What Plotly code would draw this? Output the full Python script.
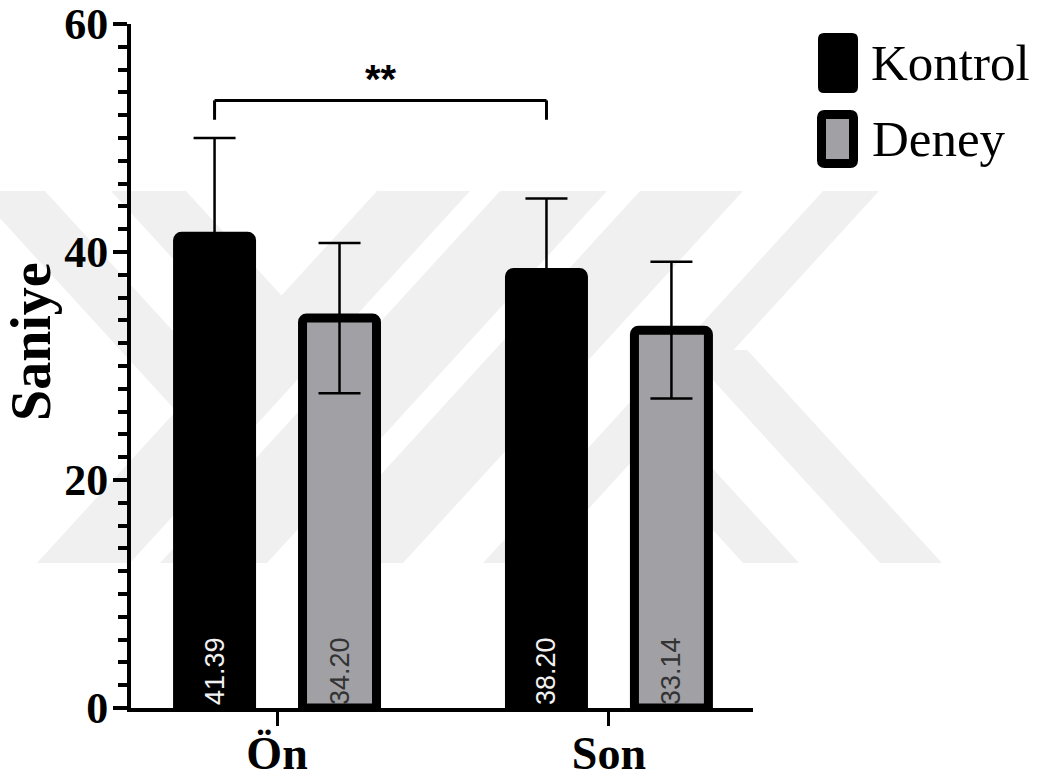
import plotly.graph_objects as go

# ---------------- data ----------------
categories = ["Ön", "Son"]
series_names = ["Kontrol", "Deney"]
kontrol_mean = [41.39, 38.20]
deney_mean = [34.20, 33.14]
kontrol_sd = [8.6, 6.5]
deney_sd = [6.6, 6.0]
y_ticks = [0, 20, 40, 60]
y_title = "Saniye"
signif_label = "**"

# ---------------- layout constants ----------------
W, H = 1041, 784
L, R, T, B = 131, 753, 24, 708          # plot area in px
BARGAP = 0.247
BARGROUPGAP = 0.408
XRANGE = [-0.44, 1.434]
YRANGE = [0, 60]
GREY = "#a1a1a5"
WM = "#f0f0f0"
SERIF = "Liberation Serif"
SANS = "Liberation Sans"


def px(x):
    return (x - L) / (R - L)


def py(y):
    return (B - y) / (B - T)


def poly(points):
    return "M " + " L ".join(f"{px(x):.5f},{py(y):.5f}" for x, y in points) + " Z"


def rrect(x0, y0, x1, y1, r):
    p = lambda x, y: f"{px(x):.5f},{py(y):.5f}"
    return (f"M {p(x0 + r, y0)} L {p(x1 - r, y0)} Q {p(x1, y0)} {p(x1, y0 + r)} "
            f"L {p(x1, y1 - r)} Q {p(x1, y1)} {p(x1 - r, y1)} "
            f"L {p(x0 + r, y1)} Q {p(x0, y1)} {p(x0, y1 - r)} "
            f"L {p(x0, y0 + r)} Q {p(x0, y0)} {p(x0 + r, y0)} Z")


fig = go.Figure()

fig.add_trace(go.Bar(
    x=categories, y=kontrol_mean, name=series_names[0],
    marker=dict(color="black", line=dict(color="black", width=9)),
    error_y=dict(type="data", array=kontrol_sd, color="black", thickness=2.5, width=21),
    text=[f"{v:.2f}" for v in kontrol_mean], textposition="inside",
    insidetextanchor="start", textangle=-90,
    textfont=dict(family=SANS, size=27, color="#f2f2f2"),
    showlegend=False,
))
fig.add_trace(go.Bar(
    x=categories, y=deney_mean, name=series_names[1],
    marker=dict(color=GREY, line=dict(color="black", width=9)),
    error_y=dict(type="data", array=deney_sd, color="black", thickness=2.5, width=21),
    text=[f"{v:.2f}" for v in deney_mean], textposition="inside",
    insidetextanchor="start", textangle=-90,
    textfont=dict(family=SANS, size=27, color="#333333"),
    showlegend=False,
))

shapes = []

# ---- faint background watermark (diagonal bands) ----
S = 0.914
TOPY, BOTY = 191, 563


def band_fwd(xb0, xb1, y0, y1):
    f = lambda xb, y: xb + S * (BOTY - y)
    return poly([(f(xb0, y1), y1), (f(xb1, y1), y1), (f(xb1, y0), y0), (f(xb0, y0), y0)])


def band_back(xt0, xt1, y0, y1):
    f = lambda xt, y: xt + S * (y - TOPY)
    return poly([(f(xt0, y0), y0), (f(xt1, y0), y0), (f(xt1, y1), y1), (f(xt0, y1), y1)])


wm_paths = [
    band_fwd(37, 130, TOPY, BOTY),
    band_fwd(160, 267, TOPY, BOTY),
    band_fwd(300, 403, TOPY, BOTY),
    band_fwd(483, 539, TOPY, BOTY),
    band_back(-25, 45, TOPY, 420),
    band_back(111, 186, TOPY, 340),
    band_back(403, 459, 430, BOTY),
    band_back(540, 602, 350, BOTY),
]
for p in wm_paths:
    shapes.append(dict(type="path", path=p, xref="paper", yref="paper",
                       fillcolor=WM, line=dict(width=0), layer="below"))

# ---- significance bracket between Kontrol bars ----
k_off = -(1 - BARGAP) / 4
xa, xb = 0 + k_off, 1 + k_off
y_top, y_end = 53.3, 51.6
for x0, y0, x1, y1 in [(xa, y_top, xb, y_top), (xa, y_top, xa, y_end), (xb, y_top, xb, y_end)]:
    shapes.append(dict(type="line", xref="x", yref="y", x0=x0, y0=y0, x1=x1, y1=y1,
                       line=dict(color="black", width=3)))

# ---- custom legend symbols ----
shapes.append(dict(type="path", path=rrect(818, 33, 858, 93, 6), xref="paper", yref="paper",
                   fillcolor="black", line=dict(width=0)))
shapes.append(dict(type="path", path=rrect(821.5, 114.5, 853.5, 163.5, 3), xref="paper", yref="paper",
                   fillcolor=GREY, line=dict(color="black", width=9)))

annotations = [
    dict(x=(xa + xb) / 2, y=55.2, xref="x", yref="y", text=f"<b>{signif_label}</b>",
         showarrow=False, font=dict(family=SANS, size=40, color="black"),
         xanchor="center", yanchor="middle"),
    dict(x=px(31), y=py(342), xref="paper", yref="paper", text=f"<b>{y_title}</b>",
         textangle=-90, showarrow=False, font=dict(family=SERIF, size=56, color="black"),
         xanchor="center", yanchor="middle"),
    dict(x=px(869), y=py(63), xref="paper", yref="paper", text=series_names[0],
         showarrow=False, font=dict(family=SERIF, size=51, color="black"),
         xanchor="left", yanchor="middle"),
    dict(x=px(870), y=py(139), xref="paper", yref="paper", text=series_names[1],
         showarrow=False, font=dict(family=SERIF, size=51, color="black"),
         xanchor="left", yanchor="middle"),
]

fig.update_layout(
    width=W, height=H, autosize=False,
    margin=dict(l=L, r=W - R, t=T, b=H - B, pad=0),
    paper_bgcolor="white", plot_bgcolor="white",
    barmode="group", bargap=BARGAP, bargroupgap=BARGROUPGAP, barcornerradius=4,
    showlegend=False,
    shapes=shapes, annotations=annotations,
    xaxis=dict(
        type="category", range=XRANGE, showgrid=False, zeroline=False,
        automargin=False,
        showline=True, linecolor="black", linewidth=4,
        ticks="outside", ticklen=14, tickwidth=3, tickcolor="black",
        tickfont=dict(family=SERIF, size=46, color="black", weight="bold"),
        ticklabelstandoff=-12,
    ),
    yaxis=dict(
        range=YRANGE, tickvals=y_ticks, showgrid=False, zeroline=False,
        automargin=False,
        showline=True, linecolor="black", linewidth=4,
        ticks="outside", ticklen=14, tickwidth=4, tickcolor="black",
        tickfont=dict(family=SERIF, size=44, color="black", weight="bold"),
        ticklabelstandoff=-4,
        minor=dict(dtick=2, ticks="outside", ticklen=9, tickwidth=4,
                   tickcolor="black", showgrid=False),
    ),
)

fig.write_html("out.html", config={"displayModeBar": False},
               post_script="document.body.style.margin='0';document.body.style.overflow='hidden';")
